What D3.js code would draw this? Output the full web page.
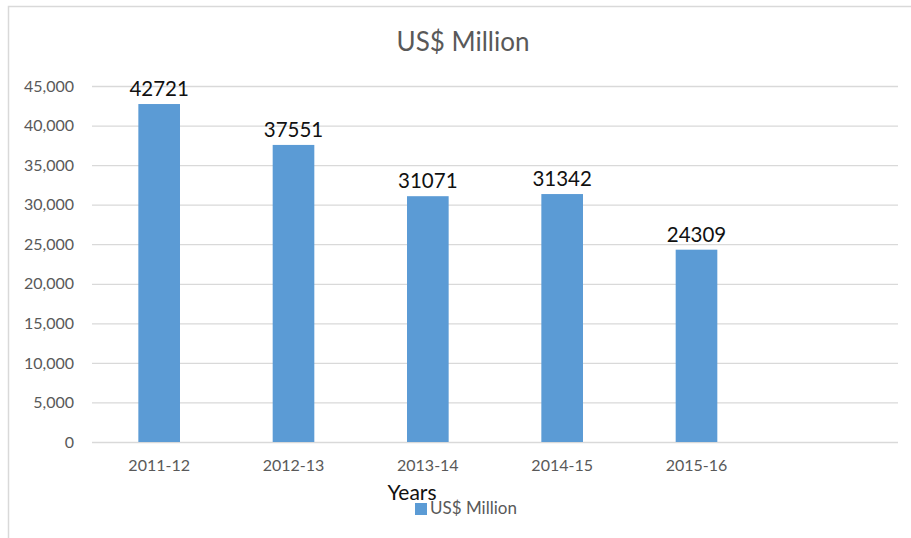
<!DOCTYPE html>
<html><head><meta charset="utf-8">
<script src="https://cdn.jsdelivr.net/npm/d3@7"></script>
<style>body{margin:0;background:#fff}svg{display:block}</style>
</head><body>
<script>
const categories = ["2011-12","2012-13","2013-14","2014-15","2015-16",""];
const values = [42721, 37551, 31071, 31342, 24309, null];
const yTicks = [0,5000,10000,15000,20000,25000,30000,35000,40000,45000];
const seriesName = "US$ Million";
const chartTitle = "US$ Million";
const xTitle = "Years";

const W = 911, H = 538;
const m = {left: 92, right: 13, top: 86, bottom: 96};
const svg = d3.select("body").append("svg").attr("width", W).attr("height", H);
const font = "Lato, 'Open Sans', sans-serif";

svg.append("rect").attr("x", 8.5).attr("y", 6.5).attr("width", W).attr("height", H)
  .attr("fill", "#fff").attr("stroke", "#D9D9D9").attr("stroke-width", 1.5);

const x = d3.scaleBand().domain(categories).range([m.left, W - m.right]).paddingInner(0.69).paddingOuter(0.345);
const y = d3.scaleLinear().domain([0, 45000]).range([H - m.bottom, m.top]);

const yAxis = svg.append("g").attr("transform", `translate(${m.left},0)`)
  .call(d3.axisLeft(y).tickValues(yTicks).tickSize(-(W - m.left - m.right)).tickPadding(18).tickFormat(d3.format(",")));
yAxis.select(".domain").remove();
yAxis.selectAll(".tick line").attr("stroke", "#D9D9D9").attr("stroke-width", 1.3);
yAxis.selectAll(".tick text").attr("fill", "#595959").style("font", `16px ${font}`);

const xAxis = svg.append("g").attr("transform", `translate(0,${H - m.bottom})`)
  .call(d3.axisBottom(x).tickSize(0).tickPadding(18));
xAxis.select(".domain").remove();
xAxis.selectAll(".tick text").attr("fill", "#595959").style("font", `16px ${font}`);

const data = categories.map((c, i) => ({c, v: values[i]})).filter(d => d.v != null);
svg.append("g").selectAll("rect").data(data).join("rect")
  .attr("x", d => x(d.c)).attr("width", x.bandwidth())
  .attr("y", d => y(d.v)).attr("height", d => y(0) - y(d.v))
  .attr("fill", "#5B9BD5");

svg.append("g").selectAll("text").data(data).join("text")
  .attr("x", d => x(d.c) + x.bandwidth() / 2).attr("y", d => y(d.v) - 8)
  .attr("text-anchor", "middle").attr("fill", "#111")
  .style("font", `20.5px ${font}`).text(d => d.v);

svg.append("text").attr("x", 463).attr("y", 51).attr("text-anchor", "middle")
  .attr("fill", "#595959").style("font", `26px ${font}`).text(chartTitle);

svg.append("text").attr("x", 412).attr("y", 500).attr("text-anchor", "middle")
  .attr("fill", "#111").style("font", `21px ${font}`).text(xTitle);

svg.append("rect").attr("x", 415).attr("y", 503).attr("width", 12).attr("height", 12).attr("fill", "#5B9BD5");
svg.append("text").attr("x", 430).attr("y", 514).attr("fill", "#595959")
  .style("font", `17px ${font}`).text(seriesName);
</script>
</body></html>
